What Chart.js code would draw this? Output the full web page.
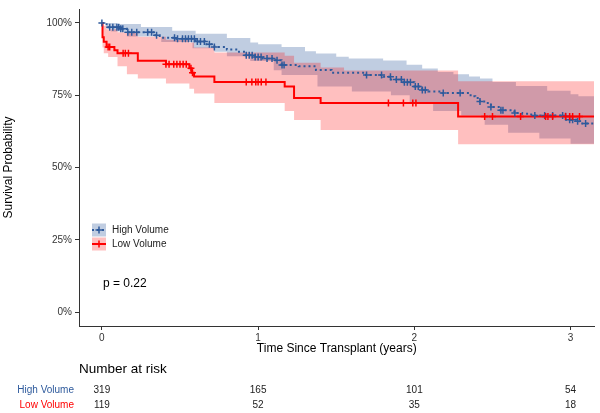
<!DOCTYPE html>
<html>
<head>
<meta charset="utf-8">
<script src="https://cdn.jsdelivr.net/npm/chart.js@4.4.1/dist/chart.umd.min.js"></script>
<style>
    body { margin: 0; background: #fff; }
    canvas { display: block; }
</style>
</head>
<body>
<canvas id="kmCanvas" width="600" height="413"></canvas>
<script>
// survival steps [years, %]
const highSteps = [[0, 100], [0.03, 98.5], [0.11, 98.0], [0.16, 96.8], [0.33, 95.7], [0.37, 94.9], [0.47, 94.5], [0.6, 93.6], [0.66, 92.6], [0.72, 91.7], [0.8, 90.8], [0.86, 90.0], [0.92, 88.8], [0.98, 88.2], [1.03, 87.7], [1.1, 87.1], [1.15, 85.4], [1.26, 85.0], [1.37, 83.7], [1.47, 82.8], [1.69, 82.0], [1.8, 81.4], [1.85, 80.4], [1.93, 79.5], [2.0, 78.0], [2.05, 76.8], [2.09, 76.3], [2.18, 75.8], [2.36, 74.6], [2.39, 74.0], [2.42, 72.8], [2.46, 72.3], [2.49, 70.9], [2.55, 69.8], [2.64, 68.8], [2.69, 68.6], [2.74, 68.3], [2.77, 68.0], [2.95, 67.7], [2.97, 66.5], [3.04, 66.0], [3.06, 65.2], [3.15, 65.2]];
const highUpper = [[0, 100], [0.1, 99.6], [0.25, 98.6], [0.45, 97.3], [0.6, 96.2], [0.8, 94.8], [0.95, 93.2], [1.0, 92.6], [1.15, 91.7], [1.3, 90.2], [1.37, 89.4], [1.5, 88.3], [1.58, 87.7], [1.8, 87.0], [1.95, 85.5], [2.05, 84.2], [2.15, 83.0], [2.25, 82.2], [2.35, 81.5], [2.42, 80.8], [2.5, 79.6], [2.65, 78.2], [2.85, 76.5], [3.0, 75.3], [3.05, 74.6], [3.15, 74.6]];
const highLower = [[0, 100], [0.03, 98.0], [0.06, 97.0], [0.16, 95.3], [0.38, 93.4], [0.58, 91.2], [0.72, 90.0], [0.8, 88.5], [0.95, 86.8], [1.1, 83.6], [1.15, 82.0], [1.38, 78.0], [1.6, 76.3], [1.85, 75.0], [1.97, 72.5], [2.12, 69.5], [2.3, 68.0], [2.45, 64.8], [2.6, 62.0], [2.8, 60.0], [3.0, 58.2], [3.15, 58.2]];
const highCensor = [0, 0.05, 0.07, 0.096, 0.108, 0.121, 0.134, 0.166, 0.191, 0.223, 0.293, 0.318, 0.35, 0.465, 0.484, 0.516, 0.535, 0.554, 0.573, 0.592, 0.611, 0.631, 0.656, 0.688, 0.72, 0.924, 0.943, 0.962, 0.981, 1.0, 1.019, 1.057, 1.089, 1.121, 1.153, 1.166, 1.694, 1.79, 1.847, 1.885, 1.917, 1.936, 1.955, 1.975, 2.006, 2.025, 2.051, 2.07, 2.185, 2.293, 2.42, 2.49, 2.554, 2.567, 2.643, 2.771, 2.834, 2.885, 2.949, 2.968, 2.994, 3.013, 3.045, 3.096];

const lowSteps = [[0, 100], [0.004, 95.0], [0.012, 93.5], [0.03, 91.7], [0.08, 90.5], [0.1, 89.5], [0.23, 86.9], [0.41, 85.7], [0.56, 84.3], [0.575, 82.8], [0.59, 81.5], [0.72, 79.6], [1.17, 78.0], [1.23, 74.0], [1.4, 72.3], [2.28, 67.6], [3.15, 67.6]];
const lowUpper = [[0, 100], [0.004, 99.0], [0.03, 97.8], [0.1, 96.8], [0.23, 95.2], [0.41, 94.2], [0.56, 93.2], [0.59, 91.5], [0.72, 89.8], [1.17, 88.6], [1.23, 86.2], [1.4, 84.6], [1.55, 83.5], [2.28, 79.8], [3.15, 79.8]];
const lowLower = [[0, 100], [0.004, 91.5], [0.012, 89.5], [0.04, 88.2], [0.1, 85.0], [0.16, 82.2], [0.23, 80.8], [0.41, 79.0], [0.56, 77.2], [0.59, 75.6], [0.72, 72.3], [1.17, 69.5], [1.23, 66.4], [1.4, 63.0], [2.28, 58.0], [3.15, 58.0]];
const lowCensor = [0.04, 0.05, 0.136, 0.15, 0.17, 0.41, 0.43, 0.46, 0.48, 0.5, 0.52, 0.54, 0.57, 0.58, 0.924, 0.96, 0.985, 1.0, 1.02, 1.05, 1.834, 1.93, 1.99, 2.01, 2.45, 2.5, 2.68, 2.84, 2.855, 2.885, 2.968, 2.994, 3.013, 3.057];

const groupNames = ["High Volume", "Low Volume"];
const xTicks = [0, 1, 2, 3];
const yTicks = [0, 25, 50, 75, 100];
const riskTimes = [0, 1, 2, 3];
const highRisk = [319, 165, 101, 54];
const lowRisk = [119, 52, 35, 18];
const pValueText = "p = 0.22";

const blue = "#2E5A9C";
const blueBand = "rgba(46,90,156,0.3)";
const red = "#FF0000";
const redBand = "rgba(255,0,0,0.25)";
const font = "'Liberation Sans', Arial, sans-serif";

function toPoints(arr) {
    return arr.map(function (p) { return { x: p[0], y: p[1] }; });
}

// the survival value at time t on a step curve
function survAt(steps, t) {
    var s = steps[0][1];
    for (var i = 0; i < steps.length; i++) {
        if (steps[i][0] <= t) s = steps[i][1];
    }
    return s;
}

function censorPoints(times, steps) {
    return times.map(function (t) { return { x: t, y: survAt(steps, t) }; });
}

function lineSet(data, color, extra) {
    return Object.assign({
        data: toPoints(data),
        showLine: true,
        stepped: true,
        borderColor: color,
        borderWidth: 2,
        pointRadius: 0,
        fill: false
    }, extra || {});
}

function markSet(times, steps, color) {
    return {
        data: censorPoints(times, steps),
        showLine: false,
        pointStyle: "cross",
        pointRadius: 3.5,
        pointBorderWidth: 1.5,
        pointBorderColor: color,
        pointBackgroundColor: color
    };
}

// first dataset is drawn on top
const datasets = [
    markSet(lowCensor, lowSteps, red),
    markSet(highCensor, highSteps, blue),
    lineSet(lowSteps, red, { borderWidth: 2 }),
    lineSet(highSteps, blue, { borderWidth: 2, borderDash: [2, 3] }),
    lineSet(lowUpper, "rgba(0,0,0,0)", { borderWidth: 0, fill: "+1", backgroundColor: redBand }),
    lineSet(lowLower, "rgba(0,0,0,0)", { borderWidth: 0 }),
    lineSet(highUpper, "rgba(0,0,0,0)", { borderWidth: 0, fill: "+1", backgroundColor: blueBand }),
    lineSet(highLower, "rgba(0,0,0,0)", { borderWidth: 0 })
];

const annotations = {
    id: "annotations",
    afterDraw: function (chart) {
        var ctx = chart.ctx;
        var xs = chart.scales.x;
        var area = chart.chartArea;
        ctx.save();
        ctx.textBaseline = "middle";

        // y axis title
        ctx.save();
        ctx.translate(9, (area.top + area.bottom) / 2 + 0);
        ctx.rotate(-Math.PI / 2);
        ctx.textAlign = "center";
        ctx.fillStyle = "#000";
        ctx.font = "12px " + font;
        ctx.fillText("Survival Probability", 0, 0);
        ctx.restore();

        // x axis title
        ctx.textAlign = "center";
        ctx.fillStyle = "#000";
        ctx.font = "12px " + font;
        ctx.fillText("Time Since Transplant (years)", (area.left + area.right) / 2, 349);

        // legend
        var rows = [{ y: 230, color: blue, band: blueBand, dash: [2, 3] }, { y: 244, color: red, band: redBand, dash: [] }];
        rows.forEach(function (r, i) {
            ctx.fillStyle = r.band;
            ctx.fillRect(92, r.y - 6.5, 14, 13);
            ctx.strokeStyle = r.color;
            ctx.lineWidth = 2;
            ctx.setLineDash(r.dash);
            ctx.beginPath();
            ctx.moveTo(92, r.y);
            ctx.lineTo(106, r.y);
            ctx.stroke();
            ctx.setLineDash([]);
            ctx.lineWidth = 1.5;
            ctx.beginPath();
            ctx.moveTo(99, r.y - 3.5);
            ctx.lineTo(99, r.y + 3.5);
            ctx.moveTo(95.5, r.y);
            ctx.lineTo(102.5, r.y);
            ctx.stroke();
            ctx.fillStyle = "#222";
            ctx.textAlign = "left";
            ctx.font = "10px " + font;
            ctx.fillText(groupNames[i], 112, r.y + 0.5);
        });

        // p value
        ctx.fillStyle = "#000";
        ctx.textAlign = "left";
        ctx.font = "12px " + font;
        ctx.fillText(pValueText, 103, 284);

        // risk table
        ctx.font = "13.5px " + font;
        ctx.fillText("Number at risk", 79, 369);
        ctx.font = "10px " + font;
        ctx.textAlign = "right";
        ctx.fillStyle = blue;
        ctx.fillText(groupNames[0], 74, 390);
        ctx.fillStyle = red;
        ctx.fillText(groupNames[1], 74, 405);
        ctx.fillStyle = "#222";
        ctx.textAlign = "center";
        riskTimes.forEach(function (t, i) {
            var px = xs.getPixelForValue(t);
            ctx.fillText(String(highRisk[i]), px, 390);
            ctx.fillText(String(lowRisk[i]), px, 405);
        });
        ctx.restore();
    }
};

new Chart(document.getElementById("kmCanvas"), {
    type: "scatter",
    data: { datasets: datasets },
    plugins: [annotations],
    options: {
        responsive: false,
        animation: false,
        layout: { padding: { left: 0, top: 5, right: 3, bottom: 0 } },
        plugins: {
            legend: { display: false },
            tooltip: { enabled: false }
        },
        scales: {
            x: {
                type: "linear",
                min: -0.1465,
                max: 3.153,
                afterBuildTicks: function (scale) {
                    scale.ticks = xTicks.map(function (v) { return { value: v }; });
                },
                afterFit: function (scale) { scale.height = 87; },
                ticks: {
                    color: "#333",
                    font: { size: 10, family: font },
                    padding: 2,
                    maxRotation: 0,
                    callback: function (v) { return String(v); }
                },
                grid: { drawOnChartArea: false, tickLength: 4, color: "#333" },
                border: { color: "#333", width: 1 }
            },
            y: {
                type: "linear",
                min: -4.8,
                max: 104.8,
                afterBuildTicks: function (scale) {
                    scale.ticks = yTicks.map(function (v) { return { value: v }; });
                },
                afterFit: function (scale) { scale.width = 79; },
                ticks: {
                    color: "#333",
                    font: { size: 10, family: font },
                    padding: 3,
                    callback: function (v) { return v + "%"; }
                },
                grid: { drawOnChartArea: false, tickLength: 4, color: "#333" },
                border: { color: "#333", width: 1 }
            }
        }
    }
});
</script>
</body>
</html>
